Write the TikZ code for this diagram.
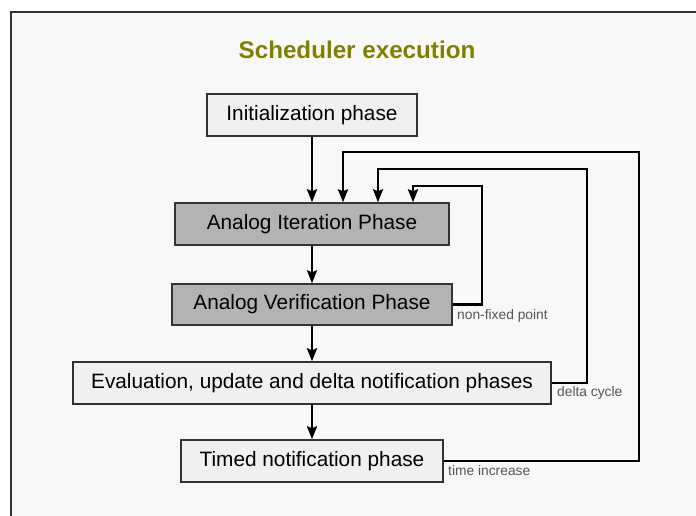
\documentclass[tikz,border=0pt]{standalone}
\usepackage{fontspec}
\setmainfont{Liberation Sans}
\usetikzlibrary{arrows.meta}
\definecolor{olivet}{HTML}{808000}
\definecolor{framefill}{HTML}{F8F8F8}
\definecolor{lightbox}{HTML}{F0F0F0}
\definecolor{darkbox}{HTML}{B3B3B3}
\definecolor{edgegray}{HTML}{333333}
\definecolor{labelgray}{HTML}{555555}
\tikzset{
  x=1pt, y=1pt,
  phase/.style={draw=edgegray, line width=1.4pt, inner sep=0pt, align=center,
    minimum height=42pt, text height=15pt, text depth=4.5pt,
    font=\fontsize{20.8}{24}\selectfont},
  lightphase/.style={phase, fill=lightbox},
  darkphase/.style={phase, fill=darkbox},
  flow/.style={line width=2.8pt, -{Stealth[length=13pt,width=10pt,inset=2pt]}},
  thinflow/.style={line width=2.1pt, -{Stealth[length=13pt,width=10pt,inset=2pt]}},
  loopflow/.style={line width=2.4pt, -{Stealth[length=13pt,width=10pt,inset=2pt]}},
  looplabel/.style={anchor=base west, inner sep=0pt, text=labelgray,
    font=\fontsize{13.8}{16}\selectfont},
}
\begin{document}
\begin{tikzpicture}
\useasboundingbox (0,0) rectangle (696,-516);
\clip (0,0) rectangle (696,-516);
\fill[white] (0,0) rectangle (696,-516);
\draw[draw=edgegray, fill=framefill, line width=2pt] (10.5,-12) rectangle (720,-540);

\node[anchor=base, inner sep=0pt, text=olivet, font=\fontsize{24.2}{28}\selectfont\bfseries]
  (title) at (357,-59) {Scheduler execution};

\node[lightphase, minimum width=210pt] (init) at (312,-115) {Initialization phase};
\node[darkphase, minimum width=274pt] (iter) at (312,-224) {Analog Iteration Phase};
\node[darkphase, minimum width=280pt, minimum height=41pt] (verif) at (312,-304.5) {Analog Verification Phase};
\node[lightphase, minimum width=478pt] (eval) at (312,-383) {Evaluation, update and delta notification phases};
\node[lightphase, minimum width=262pt] (timed) at (312,-461) {Timed notification phase};

\draw[flow] (init.south) -- (iter.north);
\draw[thinflow] (iter.south) -- (verif.north);
\draw[flow] (verif.south) -- (eval.north);
\draw[flow] (eval.south) -- (timed.north);

\coordinate (nfR) at (482,-186);
\coordinate (nfL) at (413,-186);
\coordinate (dR) at (587,-169);
\coordinate (dL) at (378,-169);
\coordinate (tR) at (639,-152);
\coordinate (tL) at (343,-152);

\draw[loopflow] (verif.east) -| (nfR) -- (nfL) -- (nfL |- iter.north);
\draw[loopflow] (eval.east) -| (dR) -- (dL) -- (dL |- iter.north);
\draw[loopflow] (timed.east) -| (tR) -- (tL) -- (tL |- iter.north);

\node[looplabel] (nflabel) at (457,-319.5) {non-fixed point};
\node[looplabel] (dlabel) at (557,-396) {delta cycle};
\node[looplabel] (tlabel) at (448,-475) {time increase};
\end{tikzpicture}
\end{document}
